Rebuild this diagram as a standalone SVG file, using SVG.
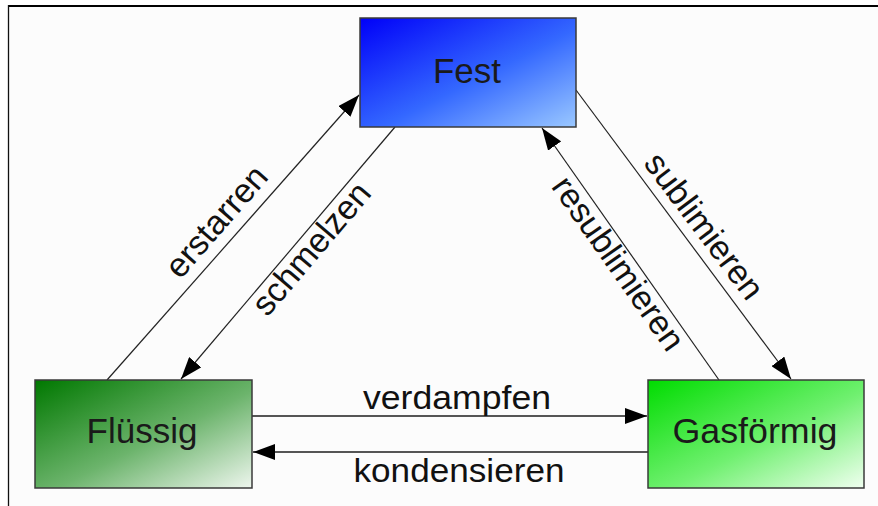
<svg xmlns="http://www.w3.org/2000/svg" width="878" height="506" viewBox="0 0 878 506">
  <defs>
    <linearGradient id="gFest" x1="0" y1="0" x2="1" y2="1">
      <stop offset="0" stop-color="#0000f8"/>
      <stop offset="0.55" stop-color="#3468ff"/>
      <stop offset="1" stop-color="#9ac8ff"/>
    </linearGradient>
    <linearGradient id="gFl" x1="0" y1="0" x2="1" y2="1">
      <stop offset="0" stop-color="#007800"/>
      <stop offset="0.55" stop-color="#6cb46c"/>
      <stop offset="1" stop-color="#eef6ee"/>
    </linearGradient>
    <linearGradient id="gGas" x1="0" y1="0" x2="1" y2="1">
      <stop offset="0" stop-color="#00dc00"/>
      <stop offset="0.55" stop-color="#70f070"/>
      <stop offset="1" stop-color="#f0fff0"/>
    </linearGradient>
    <marker id="ah" markerUnits="userSpaceOnUse" markerWidth="22" markerHeight="16" refX="22" refY="8" orient="auto">
      <path d="M0,0 L22,8 L0,16 z" fill="#000"/>
    </marker>
  </defs>
  <style>
    .box { stroke: #3a3a3a; stroke-width: 1.5; }
    .nl { font-family: "Liberation Sans", Arial, sans-serif; font-size: 35px; fill: #1a1a1a; text-anchor: middle; }
    .el { font-family: "Liberation Sans", Arial, sans-serif; font-size: 34px; fill: #111; text-anchor: middle; }
    .diag { stroke: #222; stroke-width: 1.2; fill: none; }
    .hor { stroke: #555; stroke-width: 2; fill: none; }
  </style>
  <rect x="0" y="0" width="878" height="506" fill="#ffffff"/>
  <rect x="9" y="7" width="869" height="499" fill="#fcfcfc"/>
  <line x1="8" y1="6" x2="878" y2="6" stroke="#000" stroke-width="2"/>
  <line x1="8.5" y1="5" x2="8.5" y2="506" stroke="#111" stroke-width="1.3"/>

  <g id="connectors">
    <line class="diag" x1="107" y1="380" x2="359" y2="95" marker-end="url(#ah)"/>
    <line class="diag" x1="395" y1="127" x2="181" y2="379" marker-end="url(#ah)"/>
    <line class="diag" x1="576" y1="90" x2="791" y2="379" marker-end="url(#ah)"/>
    <line class="diag" x1="719" y1="380" x2="542" y2="128" marker-end="url(#ah)"/>
    <line class="hor" x1="252" y1="416" x2="647" y2="416" marker-end="url(#ah)"/>
    <line class="hor" x1="648" y1="452" x2="253" y2="452" marker-end="url(#ah)"/>
    <text class="el" transform="translate(225,229) rotate(-48.8)">erstarren</text>
    <text class="el" transform="translate(320,256) rotate(-49.6)">schmelzen</text>
    <text class="el" transform="translate(695,233) rotate(53)">sublimieren</text>
    <text class="el" transform="translate(609,270) rotate(55)">resublimieren</text>
    <text class="el" x="457" y="409" textLength="188" lengthAdjust="spacingAndGlyphs">verdampfen</text>
    <text class="el" x="459" y="482" textLength="211" lengthAdjust="spacingAndGlyphs">kondensieren</text>
  </g>

  <g id="fest">
    <rect class="box" x="360" y="18" width="216" height="109" fill="url(#gFest)"/>
    <text class="nl" x="467" y="83">Fest</text>
  </g>
  <g id="fluessig">
    <rect class="box" x="35" y="380" width="217" height="108" fill="url(#gFl)"/>
    <text class="nl" x="142" y="443">Flüssig</text>
  </g>
  <g id="gasfoermig">
    <rect class="box" x="648" y="380" width="216" height="108" fill="url(#gGas)"/>
    <text class="nl" x="755" y="443" textLength="165" lengthAdjust="spacingAndGlyphs">Gasförmig</text>
  </g>
</svg>
